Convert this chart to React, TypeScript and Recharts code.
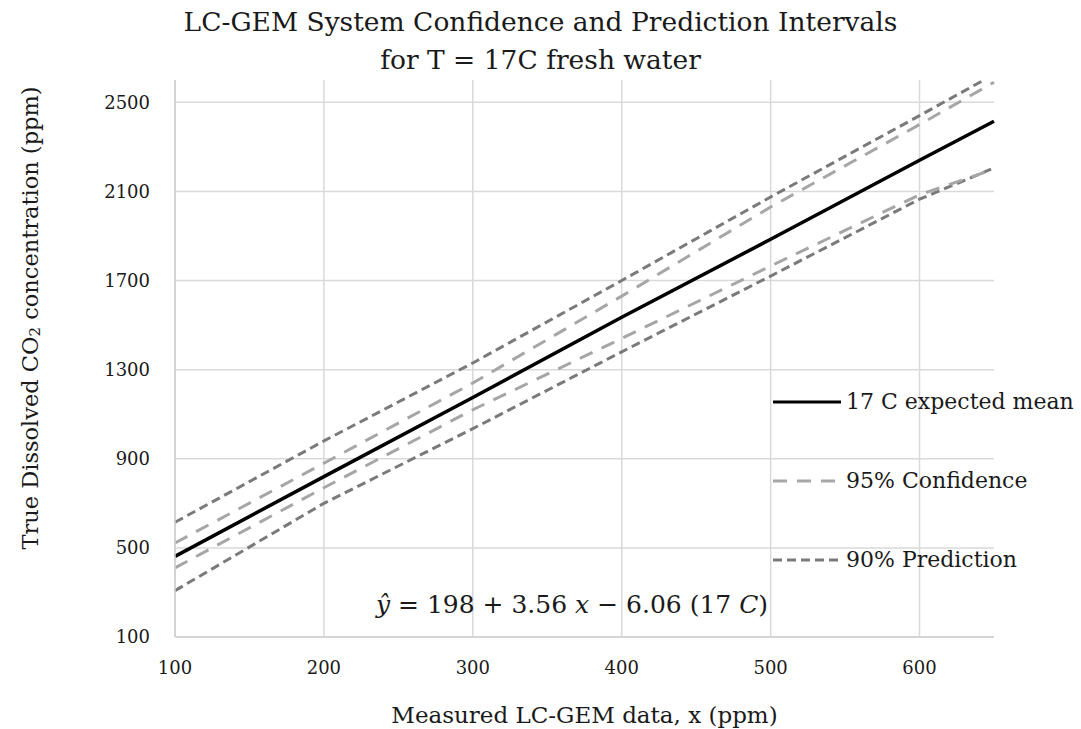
import React from "react";
import {
  LineChart,
  Line,
  XAxis,
  YAxis,
  CartesianGrid,
  Label,
} from "recharts";

// values
const measuredX = [100, 200, 300, 400, 500, 600, 650];
const expectedMean = [462, 820, 1175, 1535, 1885, 2240, 2415];
const confidenceUpper = [522, 880, 1240, 1630, 2030, 2400, 2590];
const confidenceLower = [410, 770, 1120, 1440, 1765, 2085, 2200];
const predictionUpper = [615, 980, 1330, 1700, 2075, 2440, 2625];
const predictionLower = [308, 700, 1035, 1380, 1720, 2065, 2205];

const xTicks = [100, 200, 300, 400, 500, 600];
const yTicks = [100, 500, 900, 1300, 1700, 2100, 2500];
const xDomain = [100, 650];
const yDomain = [100, 2600];

const data = measuredX.map((x, i) => ({
  x,
  mean: expectedMean[i],
  confHi: confidenceUpper[i],
  confLo: confidenceLower[i],
  predHi: predictionUpper[i],
  predLo: predictionLower[i],
}));

const FONT = "'DejaVu Serif', serif";
const TEXT = "#1a1a1a";
const MEAN_COLOR = "#000000";
const CONF_COLOR = "#a6a6a6";
const PRED_COLOR = "#7a7a7a";
const CONF_DASH = "14 10";
const PRED_DASH = "9 5";

const legendItems = [
  { label: "17 C expected mean", color: MEAN_COLOR, dash: undefined },
  { label: "95% Confidence", color: CONF_COLOR, dash: CONF_DASH },
  { label: "90% Prediction", color: PRED_COLOR, dash: PRED_DASH },
];

const LegendBox = () => (
  <div
    style={{
      position: "absolute",
      left: 773,
      top: 362,
      fontFamily: FONT,
      fontSize: 22,
      color: TEXT,
    }}
  >
    {legendItems.map((item) => (
      <div
        key={item.label}
        style={{ display: "flex", alignItems: "center", height: 79 }}
      >
        <svg width={70} height={10} style={{ marginRight: 3 }}>
          <line
            x1={0}
            y1={5}
            x2={68}
            y2={5}
            stroke={item.color}
            strokeWidth={3}
            strokeDasharray={item.dash}
          />
        </svg>
        <span style={{ whiteSpace: "nowrap" }}>{item.label}</span>
      </div>
    ))}
  </div>
);

const YTitle = (props: any) => {
  const { viewBox } = props;
  const cx = 30;
  const cy = viewBox.y + 238;
  return (
    <text
      x={cx}
      y={cy}
      transform={`rotate(-90, ${cx}, ${cy})`}
      textAnchor="middle"
      dominantBaseline="central"
      fontFamily={FONT}
      fontSize={22.5}
      fill={TEXT}
    >
      <tspan>True Dissolved CO</tspan>
      <tspan fontSize={15} dy={5}>2</tspan>
      <tspan dy={-5}> concentration (ppm)</tspan>
    </text>
  );
};

// grid lines only at the tick values (no extra lines on the plot edges)
const horizontalLines = ({ offset }: any) =>
  yTicks.map(
    (t) =>
      offset.top +
      (offset.height * (yDomain[1] - t)) / (yDomain[1] - yDomain[0])
  );
const verticalLines = ({ offset }: any) =>
  xTicks.map(
    (t) =>
      offset.left +
      (offset.width * (t - xDomain[0])) / (xDomain[1] - xDomain[0])
  );

const App = () => {
  return (
    <div
      style={{
        position: "absolute",
        left: 0,
        top: 0,
        width: 1081,
        height: 729,
        background: "#fff",
      }}
    >
      <div
        style={{
          position: "absolute",
          left: 0,
          top: 3,
          width: 1081,
          textAlign: "center",
          fontFamily: FONT,
          fontSize: 26.5,
          lineHeight: "38px",
          color: TEXT,
        }}
      >
        LC-GEM System Confidence and Prediction Intervals
        <br />
        for T = 17C fresh water
      </div>
      <LineChart
        width={1081}
        height={729}
        data={data}
        margin={{ top: 80, right: 87, left: 0, bottom: 0 }}
      >
        <CartesianGrid
          stroke="#d9d9d9"
          strokeWidth={1.5}
          horizontalCoordinatesGenerator={horizontalLines}
          verticalCoordinatesGenerator={verticalLines}
        />
        <XAxis
          dataKey="x"
          type="number"
          domain={xDomain}
          ticks={xTicks}
          height={92}
          tickLine={false}
          tickSize={0}
          tickMargin={24}
          axisLine={{ stroke: "#cfcfcf", strokeWidth: 1.5 }}
          tick={{ fontFamily: FONT, fontSize: 18, fill: TEXT }}
        >
          <Label
            value="Measured LC-GEM data, x (ppm)"
            position="insideBottom"
            offset={6}
            style={{ fontFamily: FONT, fontSize: 23, fill: TEXT }}
          />
        </XAxis>
        <YAxis
          type="number"
          domain={yDomain}
          ticks={yTicks}
          allowDataOverflow
          width={175}
          tickLine={false}
          tickSize={0}
          tickMargin={25}
          axisLine={{ stroke: "#cfcfcf", strokeWidth: 1.5 }}
          tick={{ fontFamily: FONT, fontSize: 18, fill: TEXT }}
          label={{ content: YTitle }}
        />
        <Line
          type="linear"
          dataKey="predHi"
          name="90% Prediction"
          stroke={PRED_COLOR}
          strokeWidth={3}
          strokeDasharray={PRED_DASH}
          dot={false}
          isAnimationActive={false}
        />
        <Line
          type="linear"
          dataKey="predLo"
          stroke={PRED_COLOR}
          strokeWidth={3}
          strokeDasharray={PRED_DASH}
          dot={false}
          isAnimationActive={false}
        />
        <Line
          type="linear"
          dataKey="confHi"
          name="95% Confidence"
          stroke={CONF_COLOR}
          strokeWidth={3}
          strokeDasharray={CONF_DASH}
          dot={false}
          isAnimationActive={false}
        />
        <Line
          type="linear"
          dataKey="confLo"
          stroke={CONF_COLOR}
          strokeWidth={3}
          strokeDasharray={CONF_DASH}
          dot={false}
          isAnimationActive={false}
        />
        <Line
          type="linear"
          dataKey="mean"
          name="17 C expected mean"
          stroke={MEAN_COLOR}
          strokeWidth={3.5}
          dot={false}
          isAnimationActive={false}
        />
      </LineChart>
      <LegendBox />
      <div
        style={{
          position: "absolute",
          left: 322,
          top: 590,
          width: 500,
          textAlign: "center",
          fontFamily: FONT,
          fontSize: 25,
          color: TEXT,
          whiteSpace: "nowrap",
        }}
      >
        <i>ŷ</i> = 198 + 3.56 <i>x</i> − 6.06 (17 <i>C</i>)
      </div>
    </div>
  );
};

export default App;
